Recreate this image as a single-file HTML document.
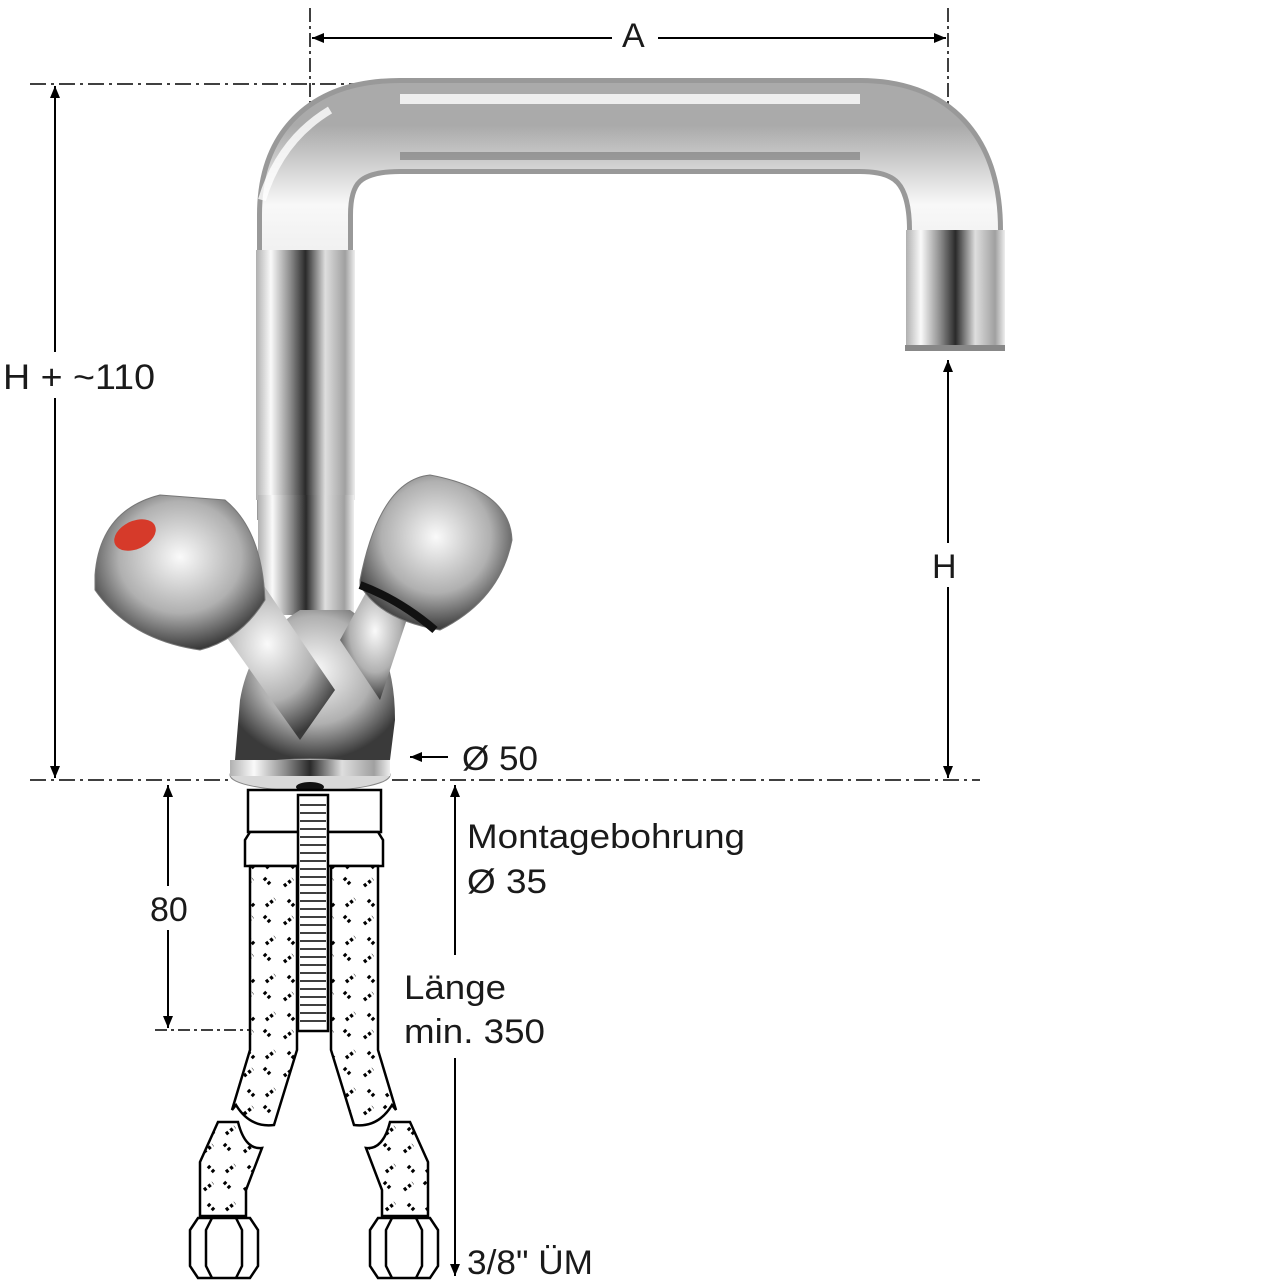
<!DOCTYPE html>
<html><head><style>
html,body{margin:0;padding:0;background:#fff;}
svg{display:block;}
text{font-family:"Liberation Sans",Arial,sans-serif;fill:#1a1a1a;}
</style></head><body>
<svg width="1280" height="1280" viewBox="0 0 1280 1280" xmlns="http://www.w3.org/2000/svg">
<defs>
<marker id="ar" markerWidth="12" markerHeight="10" refX="12" refY="5" orient="auto" markerUnits="userSpaceOnUse"><path d="M0,0 L12,5 L0,10 Z" fill="#000"/></marker>
<marker id="al" markerWidth="12" markerHeight="10" refX="0" refY="5" orient="auto" markerUnits="userSpaceOnUse"><path d="M12,0 L0,5 L12,10 Z" fill="#000"/></marker>
<pattern id="braid" width="40" height="38" patternUnits="userSpaceOnUse">
<rect width="40" height="38" fill="#fff"/>
<path d="M4,12 l9,-7 M24,4 l7,7 M8,26 l7,7 M26,32 l9,-7" stroke="#000" stroke-width="3.5" stroke-dasharray="3 2.5"/>
</pattern>
<linearGradient id="gv" x1="0" x2="1" y1="0" y2="0">
<stop offset="0" stop-color="#b0b0b0"/><stop offset="0.15" stop-color="#fafafa"/><stop offset="0.35" stop-color="#8a8a8a"/><stop offset="0.5" stop-color="#2a2a2a"/><stop offset="0.7" stop-color="#dedede"/><stop offset="0.9" stop-color="#a0a0a0"/><stop offset="1" stop-color="#eeeeee"/>
</linearGradient>
<linearGradient id="gh" x1="0" x2="0" y1="0" y2="1">
<stop offset="0" stop-color="#aaa"/><stop offset="0.2" stop-color="#f8f8f8"/><stop offset="0.55" stop-color="#e2e2e2"/><stop offset="0.8" stop-color="#8a8a8a"/><stop offset="1" stop-color="#d0d0d0"/>
</linearGradient>
<radialGradient id="gb" cx="0.5" cy="0.4" r="0.6">
<stop offset="0" stop-color="#fafafa"/><stop offset="0.6" stop-color="#b0b0b0"/><stop offset="1" stop-color="#3a3a3a"/>
</radialGradient>
</defs>

<line x1="310" y1="8" x2="310" y2="140" stroke="#000" stroke-width="1.5" stroke-dasharray="14 4 3 4"/>
<line x1="948" y1="8" x2="948" y2="200" stroke="#000" stroke-width="1.5" stroke-dasharray="14 4 3 4"/>
<line x1="312" y1="38" x2="946" y2="38" stroke="#000" stroke-width="2" marker-start="url(#al)" marker-end="url(#ar)"/>
<rect x="612" y="16" width="46" height="42" fill="#fff"/>
<text x="622" y="47" font-size="34">A</text>

<line x1="30" y1="84" x2="430" y2="84" stroke="#000" stroke-width="1.5" stroke-dasharray="16 5 3 5"/>
<line x1="55" y1="86" x2="55" y2="778" stroke="#000" stroke-width="2" marker-start="url(#al)" marker-end="url(#ar)"/>
<rect x="0" y="352" width="160" height="46" fill="#fff"/>
<text x="3" y="389" font-size="35" textLength="152" lengthAdjust="spacingAndGlyphs">H + ~110</text>

<path d="M305,520 L305,215 Q305,126 400,126 L860,126 Q955,126 955,230 L955,350" fill="none" stroke="#999" stroke-width="96"/>
<path d="M305,520 L305,215 Q305,126 400,126 L860,126 Q955,126 955,230 L955,350" fill="none" stroke="url(#gh)" stroke-width="86"/>
<rect x="256" y="250" width="99" height="250" fill="url(#gv)"/>
<rect x="906" y="230" width="99" height="120" fill="url(#gv)"/>
<path d="M262,200 Q280,140 330,110" stroke="#fff" stroke-width="8" fill="none" opacity="0.8"/>
<rect x="400" y="94" width="460" height="10" fill="#fff" opacity="0.8"/>
<rect x="400" y="152" width="460" height="8" fill="#777" opacity="0.6"/>
<rect x="905" y="345" width="100" height="6" fill="#888"/>

<rect x="258" y="495" width="96" height="120" fill="url(#gv)"/>
<path d="M240,700 Q250,640 300,610 L350,610 Q395,640 395,720 L390,760 L235,760 Z" fill="url(#gb)"/>
<path d="M200,600 L260,580 L335,690 L300,740 Z" fill="url(#gb)"/>
<path d="M95,575 Q100,510 160,495 L225,500 Q262,530 265,600 Q240,640 200,650 Q130,640 95,590 Z" fill="url(#gb)" stroke="#777" stroke-width="1"/>
<ellipse cx="135" cy="535" rx="22" ry="14" fill="#d63a2a" transform="rotate(-25 135 535)"/>
<path d="M340,640 L370,585 L410,610 L380,700 Z" fill="url(#gb)"/>
<path d="M360,580 Q380,480 430,475 Q510,490 512,540 Q500,600 440,630 Q380,620 360,585 Z" fill="url(#gb)" stroke="#777" stroke-width="1"/>
<path d="M360,585 Q400,600 435,630" stroke="#111" stroke-width="8" fill="none"/>
<ellipse cx="310" cy="775" rx="80" ry="16" fill="#d8d8d8" stroke="#888"/>
<rect x="230" y="760" width="160" height="16" fill="url(#gv)"/>
<ellipse cx="310" cy="787" rx="14" ry="5" fill="#111"/>

<line x1="30" y1="780" x2="230" y2="780" stroke="#000" stroke-width="1.5" stroke-dasharray="16 5 3 5"/>
<line x1="392" y1="780" x2="980" y2="780" stroke="#000" stroke-width="1.5" stroke-dasharray="16 5 3 5"/>

<line x1="948" y1="360" x2="948" y2="778" stroke="#000" stroke-width="2" marker-start="url(#al)" marker-end="url(#ar)"/>
<rect x="928" y="543" width="40" height="44" fill="#fff"/>
<text x="932" y="578" font-size="34">H</text>

<line x1="448" y1="757" x2="410" y2="757" stroke="#000" stroke-width="2" marker-end="url(#ar)"/>
<text x="462" y="770" font-size="34" textLength="76" lengthAdjust="spacingAndGlyphs">Ø 50</text>

<g stroke="#000" stroke-width="2.5">
<rect x="248" y="790" width="133" height="42" fill="#fff"/>
<path d="M250,832 L245,840 L245,866 L383,866 L383,840 L378,832 Z" fill="#fff"/>
<path d="M250,866 L297,866 L297,1050 L274,1125 Q250,1128 236,1105 L232,1110 L250,1050 Z" fill="url(#braid)"/>
<path d="M378,866 L331,866 L331,1050 L354,1125 Q378,1128 392,1105 L396,1110 L378,1050 Z" fill="url(#braid)"/>
<path d="M218,1122 L238,1122 Q245,1150 262,1148 L246,1190 L246,1216 L200,1216 L200,1162 Z" fill="url(#braid)"/>
<path d="M410,1122 L390,1122 Q383,1150 366,1148 L382,1190 L382,1216 L428,1216 L428,1162 Z" fill="url(#braid)"/>
<path d="M198,1218 L250,1218 L258,1230 L258,1266 L250,1278 L198,1278 L190,1266 L190,1230 Z" fill="#fff"/>
<path d="M212,1218 L206,1230 L206,1266 L212,1278 M236,1218 L242,1230 L242,1266 L236,1278" fill="none"/>
<path d="M378,1218 L430,1218 L438,1230 L438,1266 L430,1278 L378,1278 L370,1266 L370,1230 Z" fill="#fff"/>
<path d="M392,1218 L386,1230 L386,1266 L392,1278 M416,1218 L422,1230 L422,1266 L416,1278" fill="none"/>
<rect x="298" y="795" width="30" height="236" fill="#fff"/>
</g>
<path d="M300,805 H326 M300,813 H326 M300,821 H326 M300,829 H326 M300,837 H326 M300,845 H326 M300,853 H326 M300,861 H326 M300,869 H326 M300,877 H326 M300,885 H326 M300,893 H326 M300,901 H326 M300,909 H326 M300,917 H326 M300,925 H326 M300,933 H326 M300,941 H326 M300,949 H326 M300,957 H326 M300,965 H326 M300,973 H326 M300,981 H326 M300,989 H326 M300,997 H326 M300,1005 H326 M300,1013 H326 M300,1021 H326" stroke="#000" stroke-width="1.5"/>

<line x1="168" y1="785" x2="168" y2="1028" stroke="#000" stroke-width="2" marker-start="url(#al)" marker-end="url(#ar)"/>
<rect x="145" y="886" width="50" height="44" fill="#fff"/>
<text x="150" y="921" font-size="34">80</text>
<line x1="155" y1="1030" x2="250" y2="1030" stroke="#000" stroke-width="1.5" stroke-dasharray="12 4 3 4"/>

<line x1="455" y1="785" x2="455" y2="955" stroke="#000" stroke-width="2" marker-start="url(#al)"/>
<line x1="455" y1="1058" x2="455" y2="1276" stroke="#000" stroke-width="2" marker-end="url(#ar)"/>
<text x="467" y="848" font-size="34" textLength="278" lengthAdjust="spacingAndGlyphs">Montagebohrung</text>
<text x="467" y="893" font-size="34" textLength="80" lengthAdjust="spacingAndGlyphs">Ø 35</text>
<text x="404" y="999" font-size="34" textLength="102" lengthAdjust="spacingAndGlyphs">Länge</text>
<text x="404" y="1043" font-size="34" textLength="141" lengthAdjust="spacingAndGlyphs">min. 350</text>
<text x="467" y="1274" font-size="34" textLength="126" lengthAdjust="spacingAndGlyphs">3/8" ÜM</text>
</svg>
</body></html>
